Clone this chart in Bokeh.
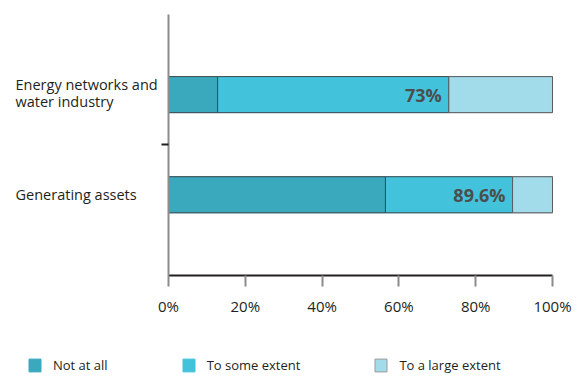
from bokeh.plotting import figure
from bokeh.models import ColumnDataSource, FixedTicker, Label, Legend, LegendItem
from bokeh.core.properties import value
from bokeh.embed import file_html
from bokeh.resources import INLINE

# ---- data ----
categories = ["Generating assets", "Energy networks and\nwater industry"]
y_pos = [0.5, 1.5]
not_at_all = [56.5, 12.8]
to_some_extent = [33.1, 60.2]
to_a_large_extent = [10.4, 27.0]
pct_labels = ["89.6%", "73%"]
series_names = ["Not at all", "To some extent", "To a large extent"]
colors = ["#3aa9be", "#42c3db", "#a2dcea"]
legend_borders = ["#3aa9be", "#42c3db", "#9a9a9a"]
x_ticks = [0, 20, 40, 60, 80, 100]
x_tick_labels = ["0%", "20%", "40%", "60%", "80%", "100%"]

FONT = "Open Sans"
TEXT = "#231f20"

src = ColumnDataSource(dict(
    y=y_pos,
    a=not_at_all,
    b=to_some_extent,
    c=to_a_large_extent,
    cum=[a + b for a, b in zip(not_at_all, to_some_extent)],
    lab=pct_labels,
))

p = figure(width=575, height=375, output_backend="svg", toolbar_location=None,
           x_range=(-43.75, 105.99), y_range=(-1.305, 2.44),
           min_border=0)
p.outline_line_color = None
p.xgrid.visible = False
p.ygrid.visible = False

# legend-style copies (drawn underneath, used only for the legend swatches)
proxy = p.hbar_stack(["a", "b", "c"], y="y", height=0.36, source=src,
                     color=colors, line_color=legend_borders, line_width=1)

rs = p.hbar_stack(["a", "b", "c"], y="y", height=0.36, source=src,
                  color=colors, line_color="#45494b", line_width=1)
rs[2].glyph.line_color = "#5a5e60"

p.text(x="cum", y="y", text="lab", source=src, x_offset=-7,
       text_align="right", text_baseline="middle",
       text_font=value(FONT), text_font_style="bold",
       text_font_size="18px", text_color="#4d4d4f")

# x axis (fixed at the bottom of the category band)
xa = p.xaxis[0]
xa.fixed_location = -0.305
xa.bounds = (0, 100)
xa.ticker = FixedTicker(ticks=x_ticks)
xa.major_label_overrides = {t: l for t, l in zip(x_ticks, x_tick_labels)}
xa.axis_line_color = "#231f20"
xa.axis_line_width = 2
xa.major_tick_line_color = "#8c8c8c"
xa.major_tick_line_width = 2
xa.major_tick_out = 11
xa.major_tick_in = 0
xa.minor_tick_line_color = None
xa.major_label_text_font = FONT
xa.major_label_text_font_size = "15px"
xa.major_label_text_color = TEXT
xa.major_label_standoff = 10

# y axis (fixed at x = 0)
ya = p.yaxis[0]
ya.fixed_location = 0
ya.bounds = (-0.305, 2.3)
ya.ticker = FixedTicker(ticks=[], minor_ticks=[1.0])
ya.axis_line_color = "#8c8c8c"
ya.axis_line_width = 2
ya.major_tick_line_color = None
ya.minor_tick_line_color = "#231f20"
ya.minor_tick_line_width = 2
ya.minor_tick_out = 7
ya.minor_tick_in = 0
ya.major_label_text_font_size = "0px"

# category labels (one Label per line, left aligned)
for cat, yy in zip(categories, y_pos):
    lines = cat.split("\n")
    n = len(lines)
    for i, line in enumerate(lines):
        off = 0.0 if n == 1 else (0.10 - 0.17 * i)
        p.add_layout(Label(x=-39.84, y=yy + off, text=line, text_align="left",
                           text_baseline="middle", text_font=FONT,
                           text_font_size="14.5px", text_color=TEXT))

leg = Legend(items=[LegendItem(label=n, renderers=[r])
                    for n, r in zip(series_names, proxy)],
             orientation="horizontal", location=(27, 1),
             glyph_width=15, glyph_height=16, label_standoff=11, spacing=73,
             padding=0, margin=0, label_height=16,
             label_text_font=FONT, label_text_font_size="13px",
             label_text_color=TEXT, border_line_color=None,
             background_fill_alpha=0)
p.add_layout(leg, "center")

open("out.html", "w").write(file_html(p, INLINE))
